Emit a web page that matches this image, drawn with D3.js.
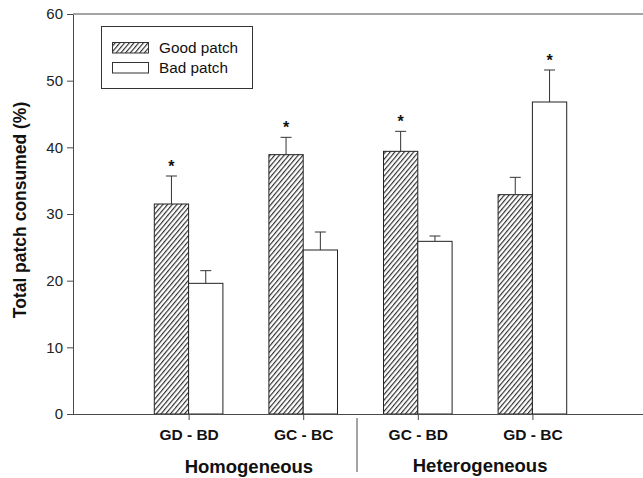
<!DOCTYPE html>
<html><head><meta charset="utf-8">
<script src="https://cdn.jsdelivr.net/npm/d3@7"></script>
<style>body{margin:0;background:#fff}svg{display:block;font-family:"Liberation Sans",Arial,sans-serif}</style>
</head><body><svg id="c" width="643" height="478"></svg>
<script>
const categories = ["GD - BD", "GC - BC", "GC - BD", "GD - BC"];
const groups = ["Homogeneous", "Heterogeneous"];
const seriesNames = ["Good patch", "Bad patch"];
const goodValues = [31.5, 38.9, 39.4, 32.9];
const goodErrors = [4.2, 2.6, 3.0, 2.6];
const badValues = [19.6, 24.6, 25.9, 46.8];
const badErrors = [1.9, 2.7, 0.8, 4.8];
const significant = [["Good patch"], ["Good patch"], ["Good patch"], ["Bad patch"]];
const yTicks = [0, 10, 20, 30, 40, 50, 60];

const svg = d3.select("#c");
const x = d3.scaleLinear().domain([0, 5]).range([74, 647]);
const y = d3.scaleLinear().domain([0, 60]).range([414, 14]);
const barW = 34.3;
const axisColor = "#4a4a4a";

const defs = svg.append("defs");
const pat = defs.append("pattern").attr("id", "hatch").attr("patternUnits", "userSpaceOnUse")
  .attr("width", 3.6).attr("height", 3.6).attr("patternTransform", "rotate(40)");
pat.append("rect").attr("width", 3.6).attr("height", 3.6).attr("fill", "#fff");
pat.append("line").attr("x1", 0.6).attr("y1", -1).attr("x2", 0.6).attr("y2", 5).attr("stroke", "#222").attr("stroke-width", 1.1);

const rows = categories.map((c, i) => ({
  cat: c, i,
  series: [
    {name: seriesNames[0], v: goodValues[i], e: goodErrors[i], off: -1},
    {name: seriesNames[1], v: badValues[i], e: badErrors[i], off: 0}
  ]
}));

// frame lines
svg.append("line").attr("x1", 73).attr("x2", 643).attr("y1", y(60)).attr("y2", y(60)).attr("stroke", axisColor).attr("stroke-width", 1);

const marks = svg.append("g");
rows.forEach(r => {
  r.series.forEach(s => {
    const x0 = x(r.i + 1) + s.off * barW;
    const xc = x0 + barW / 2;
    marks.append("line").attr("x1", xc).attr("x2", xc).attr("y1", y(s.v)).attr("y2", y(s.v + s.e)).attr("stroke", "#333").attr("stroke-width", 1);
    marks.append("line").attr("x1", xc - 5.5).attr("x2", xc + 5.5).attr("y1", y(s.v + s.e)).attr("y2", y(s.v + s.e)).attr("stroke", "#333").attr("stroke-width", 1);
    marks.append("rect").attr("x", x0).attr("y", y(s.v)).attr("width", barW).attr("height", y(0) - y(s.v))
      .attr("fill", s.name === seriesNames[0] ? "url(#hatch)" : "#fff").attr("stroke", "#222").attr("stroke-width", 1);
    if (significant[r.i].includes(s.name)) {
      marks.append("text").attr("x", xc).attr("y", y(s.v + s.e) - 4).attr("text-anchor", "middle")
        .attr("font-size", 16).attr("font-weight", "bold").attr("fill", "#111").text("*");
    }
  });
});

// y axis
const yAxis = svg.append("g").attr("transform", "translate(73,0)")
  .call(d3.axisLeft(y).tickValues(yTicks).tickSize(6).tickPadding(4).tickSizeOuter(0));
yAxis.select(".domain").attr("stroke", axisColor);
yAxis.selectAll(".tick line").attr("stroke", axisColor);
yAxis.selectAll(".tick text").attr("font-size", 15).attr("fill", "#222").attr("font-family", "Liberation Sans, Arial, sans-serif");

// x axis
const xAxis = svg.append("g").attr("transform", "translate(0,414)")
  .call(d3.axisBottom(x).tickValues([1, 2, 3, 4]).tickFormat((d) => categories[d - 1]).tickSize(6).tickPadding(9).tickSizeOuter(0));
xAxis.select(".domain").attr("d", "M73,0.5H643").attr("stroke", axisColor);
xAxis.selectAll(".tick line").attr("stroke", axisColor);
xAxis.selectAll(".tick text").attr("font-size", 15.5).attr("font-weight", "bold").attr("fill", "#111").attr("font-family", "Liberation Sans, Arial, sans-serif");

// group labels
svg.append("text").attr("x", x(1.5) + 3).attr("y", 473).attr("text-anchor", "middle").attr("font-size", 18.5).attr("font-weight", "bold").attr("fill", "#111").text(groups[0]);
svg.append("text").attr("x", x(3.5) + 5).attr("y", 472).attr("text-anchor", "middle").attr("font-size", 18.5).attr("font-weight", "bold").attr("fill", "#111").text(groups[1]);
svg.append("line").attr("x1", 357).attr("x2", 357).attr("y1", 418).attr("y2", 472).attr("stroke", axisColor).attr("stroke-width", 1);

// y label
svg.append("text").attr("transform", "translate(26,210) rotate(-90)").attr("text-anchor", "middle")
  .attr("font-size", 17.5).attr("font-weight", "bold").attr("fill", "#111").text("Total patch consumed (%)");

// legend
const lg = svg.append("g");
lg.append("rect").attr("x", 101.5).attr("y", 26.5).attr("width", 151).attr("height", 62).attr("fill", "#fff").attr("stroke", "#333").attr("stroke-width", 1);
seriesNames.forEach((n, i) => {
  lg.append("rect").attr("x", 112.5).attr("y", 42.5 + i * 20).attr("width", 36).attr("height", 10.5)
    .attr("fill", i === 0 ? "url(#hatch)" : "#fff").attr("stroke", "#333").attr("stroke-width", 1);
  lg.append("text").attr("x", 159).attr("y", 53 + i * 20).attr("font-size", 15.3).attr("fill", "#111").text(n);
});
</script></body></html>
